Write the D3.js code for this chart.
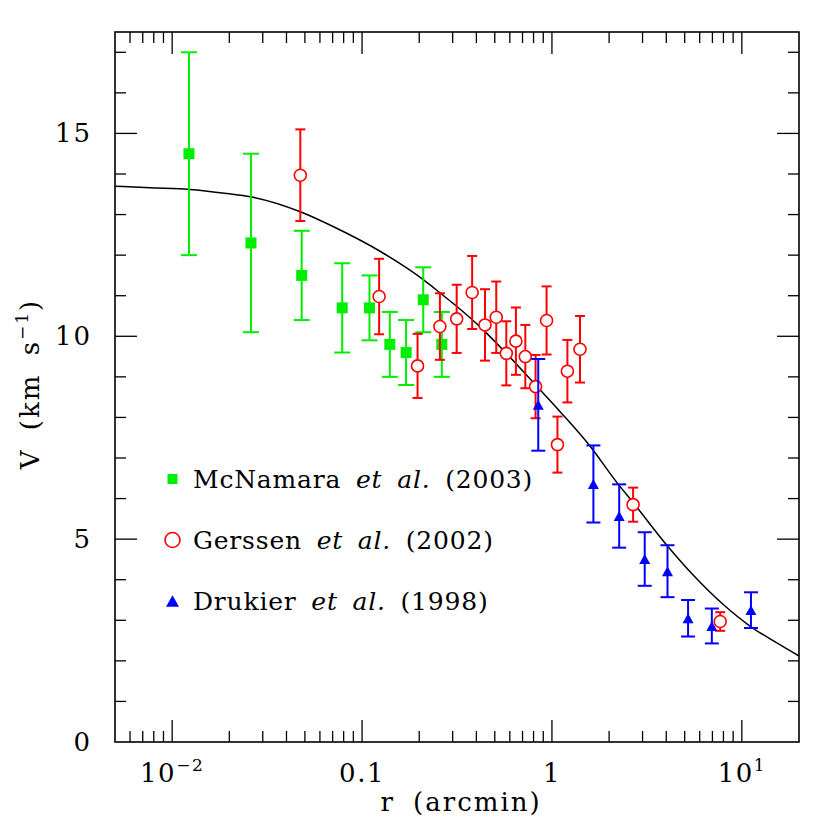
<!DOCTYPE html>
<html>
<head>
<meta charset="utf-8">
<script src="https://cdn.jsdelivr.net/npm/d3@7"></script>
<style>
    body { margin: 0; background: #fff; }
    text { font-family: "DejaVu Serif", serif; fill: #000; }
</style>
</head>
<body>
<svg id="Target" width="830" height="830"></svg>
<script>
// McNamara et al. (2003)
const mcnR = [0.01226, 0.026, 0.0481, 0.0786, 0.1094, 0.140, 0.1706, 0.210, 0.263];
const mcnV = [14.5, 12.3, 11.5, 10.7, 10.7, 9.8, 9.6, 10.9, 9.8];
const mcnE = [2.5, 2.2, 1.1, 1.1, 0.8, 0.8, 0.8, 0.8, 0.8];

// Gerssen et al. (2002)
const gerR = [0.0473, 0.123, 0.196, 0.257, 0.315, 0.380, 0.444, 0.509, 0.575, 0.646, 0.724, 0.82, 0.937, 1.069, 1.206, 1.405, 2.675, 7.69];
const gerV = [13.97, 10.98, 9.27, 10.24, 10.43, 11.08, 10.28, 10.47, 9.58, 9.88, 9.50, 8.76, 10.39, 7.33, 9.14, 9.68, 5.85, 2.97];
const gerE = [1.13, 0.93, 0.79, 0.82, 0.84, 0.90, 0.88, 0.88, 0.79, 0.83, 0.78, 0.78, 0.84, 0.69, 0.77, 0.82, 0.42, 0.23];

// Drukier et al. (1998)
const druR = [0.847, 1.653, 2.26, 3.08, 4.06, 5.21, 6.95, 11.17];
const druV = [8.31, 6.36, 5.57, 4.51, 4.21, 3.05, 2.86, 3.25];
const druE = [1.13, 0.95, 0.78, 0.66, 0.64, 0.45, 0.43, 0.44];

// model curve
const curveR = [0.005, 0.00765, 0.0124, 0.0194, 0.0258, 0.0473, 0.0708, 0.125, 0.211, 0.259, 0.33, 0.421, 0.575, 0.82, 1.11, 1.57, 2.21, 2.71, 4.06, 5.40, 7.93, 11.17, 15.45, 20];
const curveV = [13.70, 13.66, 13.62, 13.52, 13.44, 13.07, 12.70, 12.09, 11.39, 11.06, 10.66, 10.22, 9.58, 8.80, 8.13, 7.32, 6.38, 5.87, 4.83, 4.17, 3.40, 2.84, 2.43, 2.12];

const xMajor = [0.01, 0.1, 1, 10];
const xLabels = [["10", "\u22122"], ["0.1", ""], ["1", ""], ["10", "1"]];
const yMajor = [0, 5, 10, 15];

const legendNames = [
    ["McNamara ", "et al.", " (2003)"],
    ["Gerssen ", "et al.", " (2002)"],
    ["Drukier ", "et al.", " (1998)"]
];

const frame = { left: 115, right: 799, top: 32, bottom: 742 };

const x = d3.scaleLog().domain([0.005, 20]).range([frame.left, frame.right]);
const y = d3.scaleLinear().domain([0, 17.5]).range([frame.bottom, frame.top]);

const svg = d3.select("#Target");

const zip = (r, v, e) => r.map((d, i) => ({ r: d, v: v[i], e: e ? e[i] : 0 }));

const series = [
    { name: "mcn", data: zip(mcnR, mcnV, mcnE), color: "#00ee00", cap: 16, shape: "square" },
    { name: "ger", data: zip(gerR, gerV, gerE), color: "#ff0000", cap: 10, shape: "circle" },
    { name: "dru", data: zip(druR, druV, druE), color: "#0000ff", cap: 14, shape: "triangle" }
];

svg.append("clipPath").attr("id", "plotClip")
    .append("rect")
    .attr("x", frame.left).attr("y", frame.top)
    .attr("width", frame.right - frame.left)
    .attr("height", frame.bottom - frame.top);

// ticks on all four sides, pointing inward
function drawTicks() {
    const g = svg.append("g").attr("stroke", "#000").attr("stroke-width", 1.3);
    const xMinor = [];
    for (let dec = -3; dec <= 1; dec++) {
        for (let m = 2; m <= 9; m++) {
            const v = m * Math.pow(10, dec);
            if (v > 0.005 && v < 20) xMinor.push(v);
        }
    }
    const xt = xMajor.map(v => ({ v, len: 22 })).concat(xMinor.map(v => ({ v, len: 11 })));
    xt.forEach(t => {
        const px = x(t.v);
        g.append("line").attr("x1", px).attr("x2", px).attr("y1", frame.bottom).attr("y2", frame.bottom - t.len);
        g.append("line").attr("x1", px).attr("x2", px).attr("y1", frame.top).attr("y2", frame.top + t.len);
    });
    d3.range(1, 18).forEach(v => {
        const len = v % 5 === 0 ? 22 : 11;
        const py = y(v);
        g.append("line").attr("x1", frame.left).attr("x2", frame.left + len).attr("y1", py).attr("y2", py);
        g.append("line").attr("x1", frame.right).attr("x2", frame.right - len).attr("y1", py).attr("y2", py);
    });
}

function drawLabels() {
    xLabels.forEach((lab, i) => {
        const t = svg.append("text")
            .attr("x", x(xMajor[i]))
            .attr("y", 782)
            .attr("text-anchor", "middle")
            .attr("font-size", 26)
            .attr("letter-spacing", 1.5);
        t.append("tspan").text(lab[0]);
        if (lab[1]) {
            t.append("tspan").attr("font-size", 17).attr("dy", -11).text(lab[1]);
        }
    });

    svg.selectAll("text.ylab")
        .data(yMajor)
        .enter()
        .append("text")
        .attr("class", "ylab")
        .attr("x", 92)
        .attr("y", d => y(d) + 9)
        .attr("text-anchor", "end")
        .attr("font-size", 26)
        .attr("letter-spacing", 2)
        .text(d => d);

    svg.append("text")
        .attr("x", 461)
        .attr("y", 811)
        .attr("text-anchor", "middle")
        .attr("font-size", 26)
        .attr("letter-spacing", 2)
        .attr("word-spacing", 8)
        .text("r (arcmin)");

    const yt = svg.append("text")
        .attr("transform", "translate(39, 384) rotate(-90)")
        .attr("text-anchor", "middle")
        .attr("font-size", 26)
        .attr("letter-spacing", 2)
        .attr("word-spacing", 8);
    yt.append("tspan").text("V (km s");
    yt.append("tspan").attr("font-size", 17).attr("dy", -11).text("\u22121");
    yt.append("tspan").attr("dy", 11).text(")");
}

function drawMarker(g, shape, color, cx, cy, size) {
    switch (shape) {
        case "square":
            g.append("rect")
                .attr("x", cx - size / 2).attr("y", cy - size / 2)
                .attr("width", size).attr("height", size)
                .attr("fill", color);
            break;
        case "circle":
            g.append("circle")
                .attr("cx", cx).attr("cy", cy).attr("r", size / 2)
                .attr("fill", "#fff")
                .attr("stroke", color)
                .attr("stroke-width", 1.6);
            break;
        case "triangle": {
            const h = size * 0.9;
            g.append("path")
                .attr("d", `M${cx - size / 2},${cy + h / 2}L${cx + size / 2},${cy + h / 2}L${cx},${cy - h / 2}Z`)
                .attr("fill", color);
            break;
        }
    }
}

function drawSeries(s) {
    const g = svg.append("g").attr("clip-path", "url(#plotClip)");
    s.data.forEach(d => {
        const px = x(d.r);
        const top = y(d.v + d.e);
        const bot = y(d.v - d.e);
        g.append("line").attr("x1", px).attr("x2", px).attr("y1", top).attr("y2", bot)
            .attr("stroke", s.color).attr("stroke-width", 2);
        [top, bot].forEach(cy => {
            g.append("line").attr("x1", px - s.cap / 2).attr("x2", px + s.cap / 2).attr("y1", cy).attr("y2", cy)
                .attr("stroke", s.color).attr("stroke-width", 2);
        });
    });
    const sizes = { square: 11, circle: 12, triangle: 11 };
    s.data.forEach(d => drawMarker(g, s.shape, s.color, x(d.r), y(d.v), sizes[s.shape]));
}

function drawCurve() {
    const line = d3.line()
        .x(d => x(d[0]))
        .y(d => y(d[1]))
        .curve(d3.curveMonotoneX);
    svg.append("path")
        .attr("clip-path", "url(#plotClip)")
        .attr("d", line(curveR.map((r, i) => [r, curveV[i]])))
        .attr("fill", "none")
        .attr("stroke", "#000")
        .attr("stroke-width", 1.5);
}

function drawLegend() {
    const rows = [479, 540, 601];
    const sizes = { square: 10, circle: 15, triangle: 13 };
    series.forEach((s, i) => {
        drawMarker(svg.append("g"), s.shape, s.color, 172.5, rows[i], sizes[s.shape]);
        const t = svg.append("text")
            .attr("x", 193)
            .attr("y", rows[i] + 9)
            .attr("font-size", 25)
            .attr("letter-spacing", 0.8)
            .attr("word-spacing", 6);
        t.append("tspan").text(legendNames[i][0]);
        t.append("tspan").attr("font-style", "italic").text(legendNames[i][1]);
        t.append("tspan").text(legendNames[i][2]);
    });
}

drawCurve();
series.forEach(drawSeries);
drawTicks();

svg.append("rect")
    .attr("x", frame.left).attr("y", frame.top)
    .attr("width", frame.right - frame.left)
    .attr("height", frame.bottom - frame.top)
    .attr("fill", "none")
    .attr("stroke", "#000")
    .attr("stroke-width", 1.6);

drawLabels();
drawLegend();
</script>
</body>
</html>
